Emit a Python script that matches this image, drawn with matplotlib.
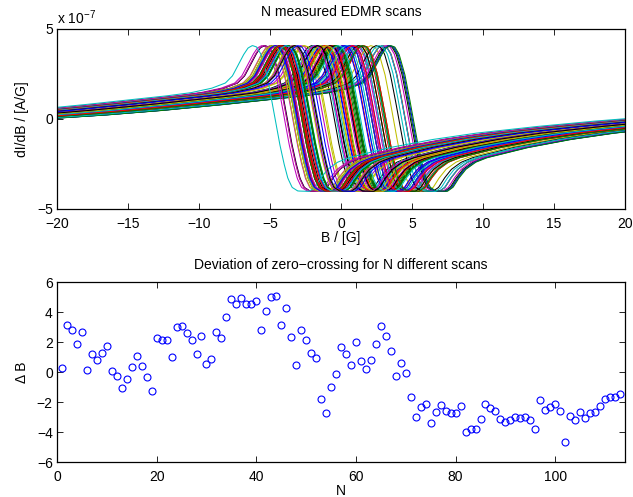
import numpy as np
import matplotlib
matplotlib.use("Agg")
import matplotlib.pyplot as plt

plt.rcParams['font.family'] = ['Liberation Sans', 'DejaVu Sans']
plt.rcParams['mathtext.default'] = 'regular'
plt.rcParams['mathtext.fontset'] = 'custom'
plt.rcParams['mathtext.rm'] = 'Liberation Sans'
plt.rcParams['font.size'] = 10

# Deviation of zero-crossing (Delta B) for each scan N = 1..113
delta_b = [0.27, 3.16, 2.82, 1.84, 2.67, 0.13, 1.20, 0.82, 1.24, 1.71,
           0.04, -0.24, -1.07, -0.47, 0.31, 1.09, 0.40, -0.33, -1.24, 2.29,
           2.16, 2.16, 1.00, 2.98, 3.04, 2.58, 2.16, 1.18, 2.42, 0.53,
           0.87, 2.67, 2.29, 3.69, 4.89, 4.51, 4.96, 4.53, 4.51, 4.76,
           2.82, 4.07, 5.02, 5.09, 3.16, 4.27, 2.31, 0.44, 2.82, 2.16,
           1.29, 0.91, -1.80, -2.76, -0.98, -0.11, 1.67, 1.20, 0.44, 1.98,
           0.73, 0.18, 0.82, 1.84, 3.09, 2.40, 1.38, -0.24, 0.58, -0.07,
           -1.64, -2.98, -2.36, -2.10, -3.40, -2.64, -2.17, -2.60, -2.76, -2.76,
           -2.29, -3.98, -3.82, -3.78, -3.11, -2.11, -2.42, -2.60, -3.11, -3.36,
           -3.22, -3.02, -3.04, -3.02, -3.18, -3.82, -1.87, -2.51, -2.33, -2.16,
           -2.60, -4.64, -2.93, -3.22, -2.67, -3.07, -2.76, -2.67, -2.29, -1.80,
           -1.69, -1.69, -1.44]
scan_n = list(range(1, len(delta_b) + 1))

# Typical EDMR line shape: field offset from zero-crossing [G]
# and signal in units of 1e-7 A/G
shape_offset = [-30, -26, -22, -18, -14, -11, -8, -6, -4.5, -3.5, -3.0, -2.6,
                -2.2, -1.9, -1.6, -1.3, -1.0, -0.6, -0.3, 0, 0.3, 0.6, 0.9,
                1.2, 1.6, 2.4, 2.8, 3.2, 3.7, 4.4, 5.2, 6.5, 8, 11, 14, 18,
                22, 26, 30]
shape_value = [-0.1, 0.0, 0.2, 0.45, 0.75, 1.0, 1.25, 1.45, 1.7, 2.0, 2.4, 3.0,
               3.6, 3.95, 4.08, 4.0, 3.6, 2.5, 1.3, 0.0, -1.3, -2.4, -3.3,
               -3.8, -4.0, -4.02, -3.8, -3.3, -2.8, -2.4, -2.15, -1.9, -1.6,
               -1.15, -0.8, -0.45, -0.15, 0.1, 0.2]

line_colors = ['b', 'g', 'r', 'c', 'm', 'y', 'k']

fig = plt.figure(figsize=(6.33, 4.97), dpi=100)
ax1 = fig.add_axes([57/633, 1-209/497, 568/633, 180/497])
ax2 = fig.add_axes([57/633, 1-462/497, 568/633, 180/497])

field = np.linspace(-20, 20, 801)
for i, c in enumerate(delta_b):
    sig = np.interp(field - c, shape_offset, shape_value) * 1e-7
    ax1.plot(field, sig, color=line_colors[i % len(line_colors)], lw=0.75)

ax1.set_xlim(-20, 20)
ax1.set_ylim(-5e-7, 5e-7)
ax1.set_xticks([-20, -15, -10, -5, 0, 5, 10, 15, 20])
ax1.set_xticklabels(['\u221220', '\u221215', '\u221210', '\u22125', '0', '5', '10', '15', '20'])
ax1.set_yticks([-5e-7, 0, 5e-7])
ax1.set_yticklabels(['\u22125', '0', '5'])
ax1.set_title('N measured EDMR scans', fontsize=10, pad=9)
ax1.set_xlabel('B / [G]', labelpad=0)
ax1.set_ylabel('dI/dB / [A/G]', labelpad=6)
ax1.text(0.0, 1.01, 'x 10$^{-7}$', transform=ax1.transAxes,
         ha='left', va='bottom', fontsize=10)

ax2.plot(scan_n, delta_b, 'o', mfc='none', mec='b', ms=5, mew=0.8)
ax2.set_xlim(0, 114)
ax2.set_ylim(-6, 6)
ax2.set_xticks([0, 20, 40, 60, 80, 100])
ax2.set_yticks([-6, -4, -2, 0, 2, 4, 6])
ax2.set_yticklabels(['\u22126', '\u22124', '\u22122', '0', '2', '4', '6'])
ax2.set_title('Deviation of zero\u2212crossing for N different scans', fontsize=10, pad=9)
ax2.set_xlabel('N', labelpad=0)
ax2.set_ylabel('\u0394 B', labelpad=6)

for ax in (ax1, ax2):
    ax.tick_params(direction='in', top=True, right=True, length=4, width=0.6)
    ax.tick_params(axis='x', pad=6)
    ax.tick_params(axis='y', pad=3)
    for s in ax.spines.values():
        s.set_linewidth(0.9)

fig.savefig('out.png', dpi=100)
